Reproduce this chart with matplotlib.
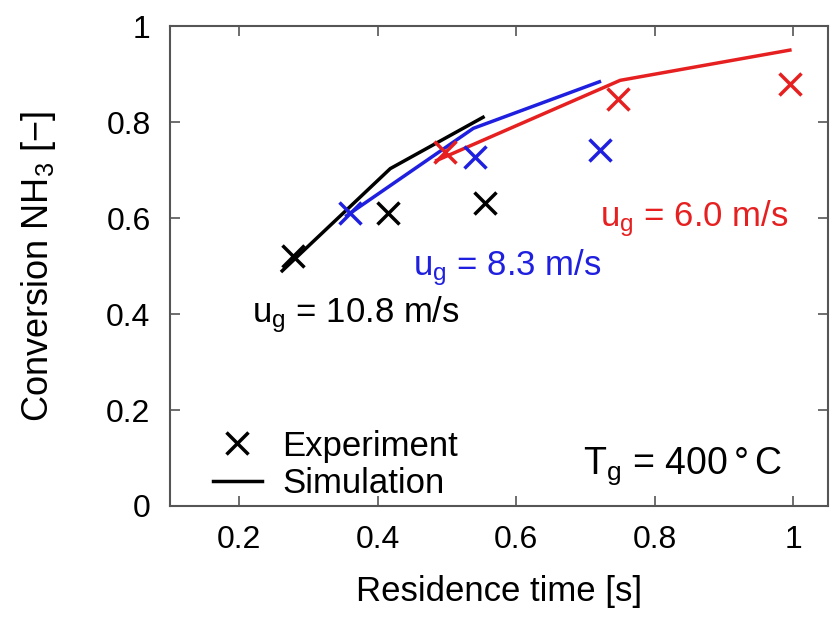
import matplotlib
matplotlib.use('Agg')
from matplotlib import pyplot as plt
from matplotlib.lines import Line2D

plt.rcParams['font.family'] = ['Liberation Sans', 'DejaVu Sans']
plt.rcParams['mathtext.default'] = 'regular'

# experiment points (residence time [s], conversion [-])
exp_t_108   = [0.277, 0.415, 0.555]
exp_c_108   = [0.521, 0.610, 0.631]
exp_t_83    = [0.360, 0.540, 0.721]
exp_c_83    = [0.610, 0.728, 0.742]
exp_t_60    = [0.497, 0.747, 0.995]
exp_c_60    = [0.738, 0.849, 0.880]

# simulation curves
sim_t_108   = [0.262, 0.418, 0.552]
sim_c_108   = [0.490, 0.703, 0.810]
sim_t_83    = [0.355, 0.538, 0.720]
sim_c_83    = [0.605, 0.787, 0.884]
sim_t_60    = [0.485, 0.750, 0.995]
sim_c_60    = [0.720, 0.887, 0.950]

labels      = ['u$_g$ = 10.8 m/s', 'u$_g$ = 8.3 m/s', 'u$_g$ = 6.0 m/s']
blk         = 'black'
blu         = '#1f1fe0'
red         = '#e62020'
fs          = 25

fig = plt.figure(figsize=(8.35, 6.2), dpi=100)
ax  = fig.add_axes([0.2036, 0.1839, 0.788, 0.774])

for t, c, col in zip([sim_t_108, sim_t_83, sim_t_60], [sim_c_108, sim_c_83, sim_c_60], [blk, blu, red]):
    ax.plot(t, c, '-', color=col, lw=2.5)
for t, c, col in zip([exp_t_108, exp_t_83, exp_t_60], [exp_c_108, exp_c_83, exp_c_60], [blk, blu, red]):
    ax.plot(t, c, 'x', color=col, ms=16, mew=2.5, ls='none')

ax.text(0.218, 0.383, labels[0], color=blk, fontsize=fs)
ax.text(0.451, 0.481, labels[1], color=blu, fontsize=fs)
ax.text(0.721, 0.583, labels[2], color=red, fontsize=fs)
ax.text(0.697, 0.068, 'T$_g$ = 400$\\,$°$\\,$C', color=blk, fontsize=27)

ax.set_xlim([0.1, 1.05])
ax.set_ylim([0, 1])
ax.set_xticks([0.2, 0.4, 0.6, 0.8, 1.0])
ax.set_xticklabels(['0.2', '0.4', '0.6', '0.8', '1'])
ax.set_yticks([0, 0.2, 0.4, 0.6, 0.8, 1.0])
ax.set_yticklabels(['0', '0.2', '0.4', '0.6', '0.8', '1'])
ax.tick_params(direction='in', length=7, width=1.2, color='#555555', labelsize=23,
               top=True, right=True)
ax.tick_params(axis='y', pad=14)
ax.tick_params(axis='x', pad=14)
for sp in ax.spines.values():
    sp.set_color('#555555')
    sp.set_linewidth(1.5)

ax.set_xlabel('Residence time [s]', fontsize=fs, labelpad=14)
ax.set_ylabel('Conversion NH$_3$ [\u2212]', fontsize=26)
ax.yaxis.set_label_coords(-0.17, 0.5)

handles = [Line2D([], [], color=blk, marker='x', ms=16, mew=2.5, ls='none'),
           Line2D([], [], color=blk, lw=2.5)]
ax.legend(handles, ['Experiment', 'Simulation'], loc='lower left', frameon=False,
          fontsize=fs, handlelength=1.4, handletextpad=0.6, labelspacing=0.12,
          bbox_to_anchor=(0.018, -0.052))

fig.savefig('out.png')
